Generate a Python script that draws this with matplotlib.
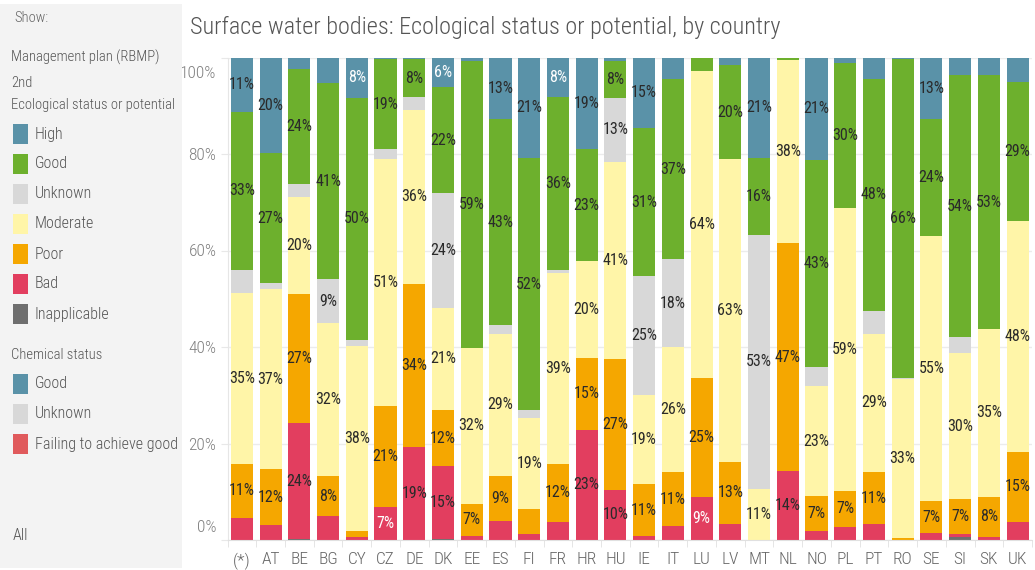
import matplotlib
matplotlib.use('Agg')
import matplotlib.pyplot as plt
from matplotlib import font_manager
from matplotlib.patches import Rectangle
from matplotlib.transforms import ScaledTranslation
import numpy as np

# Tableau uses a narrow font, use a condensed one when it is there
names = set(f.name for f in font_manager.fontManager.ttflist)
if 'Roboto Condensed' in names:
    font, k = 'Roboto Condensed', 1.0
elif 'Liberation Sans Narrow' in names:
    font, k = 'Liberation Sans Narrow', 1.0
else:
    font, k = 'Roboto', 0.88
plt.rcParams['font.family'] = [font, 'DejaVu Sans']

#Data (share of water bodies, %)
countries = ['(*)', 'AT', 'BE', 'BG', 'CY', 'CZ', 'DE', 'DK', 'EE', 'ES', 'FI', 'FR', 'HR', 'HU',
             'IE', 'IT', 'LU', 'LV', 'MT', 'NL', 'NO', 'PL', 'PT', 'RO', 'SE', 'SI', 'SK', 'UK']
inapplicable = [0, 0, 0.3, 0, 0, 0, 0, 0.3, 0, 0, 0, 0, 0, 0,
                0, 0, 0, 0, 0, 0, 0, 0, 0, 0, 0, 0.7, 0, 0]
bad = [4.6, 3.0, 23.8, 4.9, 0.6, 6.8, 19.3, 15.0, 0.9, 4.0, 1.2, 3.7, 22.8, 10.4,
       0.9, 2.8, 8.9, 3.4, 0, 14.2, 1.8, 2.8, 3.3, 0, 1.4, 0.6, 0.6, 3.7]
poor = [11.2, 11.6, 26.7, 8.4, 1.2, 20.9, 33.7, 11.6, 6.6, 9.3, 5.2, 12.1, 14.9, 27.1,
        10.6, 11.2, 24.7, 12.8, 0, 47.2, 7.2, 7.4, 10.7, 0.4, 6.7, 7.1, 8.4, 14.6]
moderate = [35.3, 37.2, 20.2, 31.6, 38.3, 51.0, 35.9, 21.2, 32.2, 29.3, 18.8, 39.4, 19.9, 40.6,
            18.6, 25.9, 63.6, 62.6, 10.6, 37.8, 22.8, 58.7, 28.6, 33.0, 54.9, 30.3, 34.7, 47.9]
unknown = [4.7, 1.2, 2.6, 9.1, 1.3, 2.0, 2.8, 23.7, 0, 1.9, 1.6, 0.6, 0, 13.3,
           24.5, 18.1, 0, 0, 52.6, 0, 4.0, 0, 4.7, 0.2, 0, 3.2, 0, 0]
good = [32.8, 26.8, 23.8, 40.6, 49.9, 18.6, 7.7, 21.9, 59.2, 42.4, 52.1, 35.9, 23.1, 7.6,
        30.7, 37.3, 2.8, 19.6, 15.9, 0.5, 42.8, 30.0, 47.9, 65.8, 24.1, 54.1, 52.6, 28.8]
high = [11.2, 19.7, 2.4, 5.3, 8.4, 0.4, 0.4, 6.2, 0.8, 12.8, 20.8, 8.1, 19.0, 0.7,
        14.6, 4.4, 0, 1.5, 20.8, 0, 21.2, 1.2, 4.4, 0.4, 12.8, 3.7, 3.7, 5.0]

series = [('Inapplicable', inapplicable, '#6e6e6e'),
          ('Bad', bad, '#e23e5f'),
          ('Poor', poor, '#f5a700'),
          ('Moderate', moderate, '#fff5a8'),
          ('Unknown', unknown, '#d8d8d8'),
          ('Good', good, '#6db02d'),
          ('High', high, '#5a92a8')]

# labels drawn in white
white_labels = [('CY', 'High'), ('DK', 'High'), ('FR', 'High'), ('CZ', 'Bad'), ('LU', 'Bad')]

fig = plt.figure(figsize=(10.35, 5.7), dpi=100)
W, H = 1035, 570

#Left "Show:" panel
fig.patches.append(Rectangle((0, 2 / H), 182 / W, 564 / H, transform=fig.transFigure,
                             facecolor='#f3f3f3', edgecolor='none', zorder=0))

def ftext(x, y, s, size=10.5, color='#555555'):
    fig.text(x / W, 1 - y / H, s, fontsize=size * k, color=color, va='center', ha='left',
             fontweight='light')

ftext(14, 18, 'Show:', color='#666666')
ftext(11, 57, 'Management plan (RBMP)')
ftext(11, 83, '2nd')
ftext(11, 105, 'Ecological status or potential')
eco_items = [('High', '#5a92a8'), ('Good', '#6db02d'), ('Unknown', '#d8d8d8'),
             ('Moderate', '#fff5a8'), ('Poor', '#f5a700'), ('Bad', '#e23e5f'),
             ('Inapplicable', '#6e6e6e')]
chem_items = [('Good', '#5a92a8'), ('Unknown', '#d8d8d8'), ('Failing to achieve good', '#e05a5c')]

def swatch(y, name, col):
    fig.patches.append(Rectangle((13 / W, 1 - (y + 10) / H), 15 / W, 20 / H,
                                 transform=fig.transFigure, facecolor=col, edgecolor='none'))
    ftext(35, y, name, size=11.5)

for i, (name, col) in enumerate(eco_items):
    swatch(134 + 30 * i, name, col)
ftext(11, 355, 'Chemical status')
for i, (name, col) in enumerate(chem_items):
    swatch(384 + 30 * i, name, col)
ftext(13, 535, 'All', size=11.5)

#Title
fig.text(190 / W, 1 - 27 / H, 'Surface water bodies: Ecological status or potential, by country',
         fontsize=17.5 * k, color='#555555', va='center', ha='left', fontweight='light')

#Chart
ax = fig.add_axes([227.5 / W, (H - 540) / H, (1032 - 227.5) / W, (540 - 57.5) / H])
x = np.arange(len(countries))
totals = np.sum([np.array(s[1]) for s in series], axis=0)
bottom = np.zeros(len(countries))
for name, vals, col in series:
    pct = np.array(vals) / totals * 100
    ax.bar(x, pct, bottom=bottom, width=0.77, color=col, zorder=2)
    for i in range(len(countries)):
        if pct[i] >= 5.5:
            tc = 'white' if (countries[i], name) in white_labels else '#2a2a2a'
            ax.text(x[i], bottom[i] + pct[i] / 2, '%d%%' % round(pct[i]), ha='center', va='center',
                    fontsize=11.5 * k, color=tc, zorder=3)
    bottom += pct

ax.set_xlim(-0.5, len(countries) - 0.5)
ax.set_ylim(0, 100)
ax.set_yticks([0, 20, 40, 60, 80, 100])
ax.set_yticklabels(['0%', '20%', '40%', '60%', '80%', '100%'], fontweight='light')
ax.set_xticks(x)
ax.set_xticklabels(countries, fontweight='light')
ax.set_xticks(np.arange(-0.5, len(countries)), minor=True)
ax.tick_params(axis='x', which='major', length=0, pad=9, labelsize=12.5 * k, labelcolor='#666666')
ax.tick_params(axis='x', which='minor', length=5, color='#e0e0e0')
ax.tick_params(axis='y', length=5, color='#e8e8e8', labelsize=12.5 * k, labelcolor='#808080', pad=3)
ax.grid(axis='y', color='#ececec', linewidth=1, zorder=0)
for s in ['top', 'right']:
    ax.spines[s].set_visible(False)
ax.spines['left'].set_color('#e6e6e6')
ax.spines['bottom'].set_color('#e0e0e0')

# Tableau keeps the end labels inside the axis
ylabs = ax.get_yticklabels()
ylabs[0].set_transform(ylabs[0].get_transform() + ScaledTranslation(0, 14 / 100, fig.dpi_scale_trans))
ylabs[-1].set_transform(ylabs[-1].get_transform() + ScaledTranslation(0, -14 / 100, fig.dpi_scale_trans))

fig.savefig('out.png', dpi=100)
